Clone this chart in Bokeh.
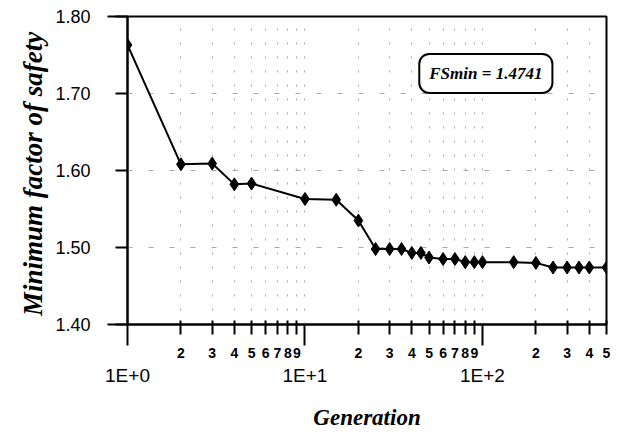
from bokeh.plotting import figure
from bokeh.models import LogAxis, FixedTicker, Label, Range1d
from bokeh.embed import file_html
from bokeh.resources import INLINE

# ---- data ----
generation = [1, 2, 3, 4, 5, 10, 15, 20, 25, 30, 35, 40, 45, 50, 60, 70, 80, 90,
              100, 150, 200, 250, 300, 350, 400, 500]
fs_min = [1.763, 1.608, 1.609, 1.582, 1.583, 1.563, 1.562, 1.535, 1.498, 1.498,
          1.498, 1.493, 1.493, 1.487, 1.485, 1.485, 1.481, 1.481, 1.481, 1.481,
          1.480, 1.474, 1.474, 1.474, 1.474, 1.4741]

decade_ticks = [1, 10, 100]
decade_labels = ["1E+0", "1E+1", "1E+2"]
digit_ticks = [2, 3, 4, 5, 6, 7, 8, 9, 20, 30, 40, 50, 60, 70, 80, 90, 200, 300, 400, 500]
digit_labels = ["2", "3", "4", "5", "6", "7", "8", "9", "2", "3", "4", "5", "6", "7",
                "8", "9", "2", "3", "4", "5"]
y_ticks = [1.40, 1.50, 1.60, 1.70, 1.80]
y_labels = ["1.40", "1.50", "1.60", "1.70", "1.80"]
y_grid_ticks = [1.50, 1.60, 1.70]
x_title = "Generation"
y_title = "Minimum  factor of safety"
fs_min_text = "FSmin = 1.4741"

SANS = "'Liberation Sans', Arial, sans-serif"
NARROW = "'Liberation Sans Narrow', 'Liberation Sans', sans-serif"
SERIF = "'Liberation Serif', 'Times New Roman', serif"

p = figure(width=617, height=437, x_axis_type="log",
           x_range=Range1d(1, 500), y_range=Range1d(1.40, 1.80),
           output_backend="svg", toolbar_location=None,
           min_border_left=127, min_border_right=11,
           min_border_top=16, min_border_bottom=113)
p.background_fill_color = "white"
p.border_fill_color = "white"
p.outline_line_color = "black"
p.outline_line_width = 2

# ---- x axis: digit ticks with labels, decade ticks long ----
xt = FixedTicker(ticks=digit_ticks, minor_ticks=decade_ticks)
xa = p.xaxis[0]
xa.ticker = xt
xa.major_label_overrides = {float(t): l for t, l in zip(digit_ticks, digit_labels)}
xa.axis_line_width = 2
xa.axis_line_color = "black"
xa.major_tick_line_width = 2
xa.major_tick_out = 10
xa.major_tick_in = 4
xa.minor_tick_line_width = 2
xa.minor_tick_line_color = "black"
xa.minor_tick_out = 21
xa.minor_tick_in = 0
xa.major_label_standoff = 2
xa.major_label_text_font = NARROW
xa.major_label_text_font_size = "14px"
xa.major_label_text_font_style = "bold"
xa.major_label_text_color = "black"

xb = LogAxis(ticker=FixedTicker(ticks=decade_ticks, minor_ticks=[]))
xb.major_label_overrides = {float(t): l for t, l in zip(decade_ticks, decade_labels)}
xb.axis_line_color = None
xb.major_tick_line_color = None
xb.minor_tick_line_color = None
xb.major_tick_out = 0
xb.major_tick_in = 0
xb.minor_tick_out = 0
xb.minor_tick_in = 0
xb.major_label_standoff = 4
xb.major_label_text_font = SANS
xb.major_label_text_font_size = "19px"
xb.major_label_text_color = "black"
xb.axis_label = x_title
xb.axis_label_standoff = 16
xb.axis_label_text_font = SERIF
xb.axis_label_text_font_style = "bold italic"
xb.axis_label_text_font_size = "23px"
xb.axis_label_text_color = "black"
p.add_layout(xb, "below")

# ---- y axis ----
ya = p.yaxis[0]
ya.ticker = FixedTicker(ticks=y_ticks, minor_ticks=[y_ticks[0], y_ticks[-1]])
ya.major_label_overrides = {float(t): l for t, l in zip(y_ticks, y_labels)}
ya.axis_line_width = 2
ya.axis_line_color = "black"
ya.major_tick_line_width = 2
ya.major_tick_out = 12
ya.major_tick_in = 0
ya.minor_tick_line_width = 2
ya.minor_tick_line_color = "black"
ya.minor_tick_out = 20
ya.minor_tick_in = 0
ya.major_label_standoff = 17
ya.major_label_text_font = SANS
ya.major_label_text_font_size = "18px"
ya.major_label_text_color = "black"
ya.axis_label = y_title
ya.axis_label_standoff = 4
ya.axis_label_text_font = SERIF
ya.axis_label_text_font_style = "bold italic"
ya.axis_label_text_font_size = "27px"
ya.axis_label_text_color = "black"

# ---- grids ----
p.xgrid.ticker = xt
p.xgrid.grid_line_color = "#a8a8a8"
p.xgrid.grid_line_width = 1
p.xgrid.grid_line_dash = "2 12"
p.xgrid.minor_grid_line_color = "#a8a8a8"
p.xgrid.minor_grid_line_width = 1
p.xgrid.minor_grid_line_dash = "2 12"
p.ygrid.ticker = FixedTicker(ticks=y_grid_ticks)
p.ygrid.grid_line_color = "#a8a8a8"
p.ygrid.grid_line_width = 1
p.ygrid.grid_line_dash = "5 16"

# ---- data ----
p.line(generation, fs_min, line_width=2, line_color="black")
p.scatter(generation, fs_min, marker="diamond", size=13,
          fill_color="black", line_color="black")

# ---- annotation box ----
box = Label(x=104.5, y=1.726, text=fs_min_text,
            text_font=SERIF, text_font_style="bold italic", text_font_size="17px",
            text_color="black", text_align="center", text_baseline="middle",
            border_line_color="black", border_line_width=2, border_radius=10,
            padding=10, background_fill_color="white")
p.add_layout(box)

open("out.html", "w").write(file_html(p, INLINE))
